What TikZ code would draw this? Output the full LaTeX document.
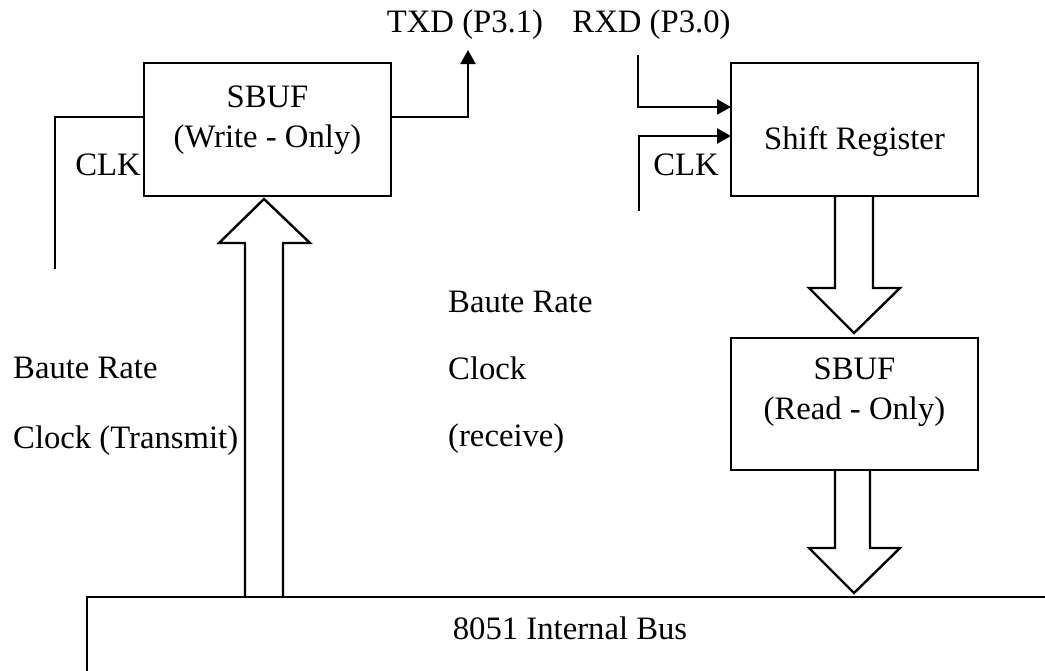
\documentclass[tikz,border=0pt]{standalone}
\usepackage{fontspec}
\setmainfont{Liberation Serif}
\usetikzlibrary{positioning,arrows.meta}

\begin{document}
\begin{tikzpicture}[x=1pt, y=-1pt, line width=2.4pt, node distance={20pt},
    font=\fontsize{32.7}{40}\selectfont,
    block/.style = {draw, outer sep=0pt, minimum width=247pt, minimum height=133pt},
    txt/.style = {inner sep=0pt, align=center},
    sig/.style = {-{Triangle[length=14pt, width=15pt]}},
    fat/.style = {line join=miter}]
    \clip (0,0) rectangle (1045,670);

    \node[block] (sbufw) at (267.5,129.5) {};
    \node[block] (shift) [right=340pt of sbufw] {};
    \node[block, minimum height=132pt] (sbufr) [below=142pt of shift] {};
    \node[draw, outer sep=0pt, anchor=north west, minimum width=1100pt, minimum height=200pt] (bus) at (87,597) {};

    \node[txt] (sbufwtxt) [below=21.7pt of sbufw.north] {SBUF\\(Write - Only)};
    \node[txt] (shifttxt) [below=62.5pt of shift.north] {Shift Register};
    \node[txt] (sbufrtxt) [below=18.7pt of sbufr.north] {SBUF\\(Read - Only)};
    \node[txt] (bustxt) at (570,628) {8051 Internal Bus};

    \node[txt] (txd) at (465,25) {TXD (P3.1)};
    \node[txt] (rxd) at (651.5,25) {RXD (P3.0)};
    \node[txt] (clkw) at (108,165) {CLK};
    \node[txt] (clkr) at (686,165) {CLK};
    \node[txt, anchor=west, align=left] (txclk) at (12,406) {Baute Rate\\[30pt]Clock (Transmit)};
    \node[txt, anchor=west, align=left] (rxclk) at (447,372) {Baute Rate\\[27pt]Clock\\[27pt](receive)};

    \coordinate (txpin) at (468,50);
    \coordinate (rxpin) at (638,55);
    \coordinate (clkwpin) at (55,269);
    \coordinate (clkrpin) at (639,211);

    \draw (clkwpin) |- ([yshift=12.5pt]sbufw.west);
    \draw[sig] ([yshift=12.5pt]sbufw.east) -| (txpin);
    \draw[sig] (rxpin) |- ([yshift=22.5pt]shift.west);
    \draw[sig] (clkrpin) |- ([yshift=-6.5pt]shift.west);

    \draw[fat] (bus.north -| 245,0) -- (245,243) -- (219,243) -- (264,199) -- (310,243) -- (283,243) -- (bus.north -| 283,0);
    \draw[fat] (shift.south -| 835,0) -- (835,288) -- (809,288) -- (854,333) -- (900,288) -- (873,288) -- (shift.south -| 873,0);
    \draw[fat] (sbufr.south -| 835,0) -- (835,548) -- (809,548) -- (854,593) -- (900,548) -- (870,548) -- (sbufr.south -| 870,0);
\end{tikzpicture}
\end{document}
